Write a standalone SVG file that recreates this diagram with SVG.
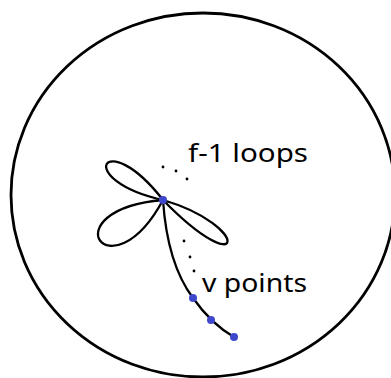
<svg xmlns="http://www.w3.org/2000/svg" width="391" height="378" viewBox="0 0 391 378">
<style>
.ln{fill:none;stroke:#000;stroke-width:2.3;stroke-linecap:round;stroke-linejoin:round}
.vx{fill:#3f48cc}
.dt{fill:#000}
.lb{font-family:"Noto Sans","Open Sans",sans-serif;font-size:25px;fill:#000}
</style>
<rect width="391" height="378" fill="#fff"/>
<g id="boundary">
<ellipse cx="203" cy="195" rx="192" ry="182" fill="none" stroke="#000" stroke-width="2.8"/>
</g>
<g id="connectors">
<path class="ln" d="M163,200 C104,124 72,180 163,200"/>
<path class="ln" d="M163,200 C48,210 110,298 163,200"/>
<path class="ln" d="M163,200 C252,226 246,285 163,200"/>
<path class="ln" d="M163,200 C166,245 178,278 193,298 C200,308 215,326 234,337"/>
</g>
<g id="dots">
<circle class="dt" cx="163" cy="167" r="1.4"/>
<circle class="dt" cx="176" cy="171" r="1.4"/>
<circle class="dt" cx="187" cy="179" r="1.4"/>
<circle class="dt" cx="184" cy="241" r="1.4"/>
<circle class="dt" cx="190" cy="257" r="1.4"/>
<circle class="dt" cx="194" cy="271" r="1.4"/>
</g>
<g id="center"><circle class="vx" cx="163" cy="200" r="4"/></g>
<g id="p1"><circle class="vx" cx="193" cy="298" r="4"/></g>
<g id="p2"><circle class="vx" cx="211" cy="320" r="4"/></g>
<g id="p3"><circle class="vx" cx="234" cy="337" r="4"/></g>
<g id="label-loops"><text class="lb" x="188" y="162" textLength="120" lengthAdjust="spacingAndGlyphs">f-1 loops</text></g>
<g id="label-points"><text class="lb" x="202" y="292" textLength="105" lengthAdjust="spacingAndGlyphs">v points</text></g>
</svg>
